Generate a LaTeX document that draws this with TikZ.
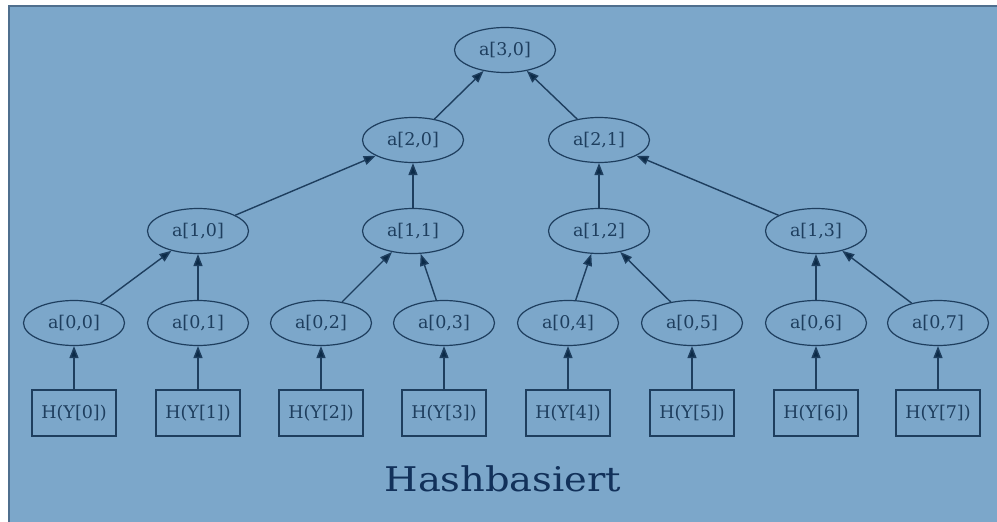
\documentclass[tikz,border=0pt]{standalone}
\usepackage{fontspec}
\setmainfont{DejaVu Serif}
\usetikzlibrary{shapes.geometric,arrows.meta}
\definecolor{panel}{HTML}{7CA7CA}
\definecolor{ink}{HTML}{1E3E5E}
\definecolor{tip}{HTML}{0C2B48}
\definecolor{frame}{HTML}{4F6F8E}
\definecolor{titleink}{HTML}{12315A}
\tikzset{
  hashval/.style={ellipse, draw=ink, line width=1.2pt, minimum width=101pt,
    minimum height=45pt, inner sep=0pt, text=ink, font=\fontsize{17.5}{20}\selectfont},
  leaf/.style={rectangle, draw=ink, line width=1.2pt, minimum width=84pt,
    minimum height=46pt, inner sep=0pt, text=ink, font=\fontsize{17.5}{20}\selectfont},
  up/.style={draw=ink, line width=1.4pt, -{Triangle[length=12pt,width=9pt,fill=tip]}}
}
\begin{document}
\begin{tikzpicture}[x=1pt,y=-1pt]
  \useasboundingbox (0,0) rectangle (997,522);
  \fill[white] (0,0) rectangle (997,522);
  \fill[panel] (9,6) rectangle (1000,525);
  \draw[frame, line width=1.3pt] (9,530) -- (9,6) -- (1000,6);

  % root and inner hash values
  \node[hashval] (a30) at (505,50) {a[3,0]};
  \node[hashval] (a20) at (413,140) {a[2,0]};
  \node[hashval] (a21) at (599,140) {a[2,1]};
  \node[hashval] (a10) at (198,231) {a[1,0]};
  \node[hashval] (a11) at (413,231) {a[1,1]};
  \node[hashval] (a12) at (599,231) {a[1,2]};
  \node[hashval] (a13) at (816,231) {a[1,3]};

  % bottom row: hash values and their leaves
  \foreach \i/\x in {0/74,1/198,2/321,3/444,4/568,5/692,6/816,7/938}{
    \node[hashval] (a0\i) at (\x,323) {a[0,\i]};
    \node[leaf] (h\i) at (\x,413) {H(Y[\i])};
    \draw[up] (h\i) -- (a0\i);
  }

  \draw[up] (a00) -- (a10);
  \draw[up] (a01) -- (a10);
  \draw[up] (a02) -- (a11);
  \draw[up] (a03) -- (a11);
  \draw[up] (a04) -- (a12);
  \draw[up] (a05) -- (a12);
  \draw[up] (a06) -- (a13);
  \draw[up] (a07) -- (a13);
  \draw[up] (a10) -- (a20);
  \draw[up] (a11) -- (a20);
  \draw[up] (a12) -- (a21);
  \draw[up] (a13) -- (a21);
  \draw[up] (a20) -- (a30);
  \draw[up] (a21) -- (a30);

  \node[text=titleink, font=\fontsize{34}{38}\selectfont, xscale=1.13] (title) at (503,479) {Hashbasiert};
\end{tikzpicture}
\end{document}
